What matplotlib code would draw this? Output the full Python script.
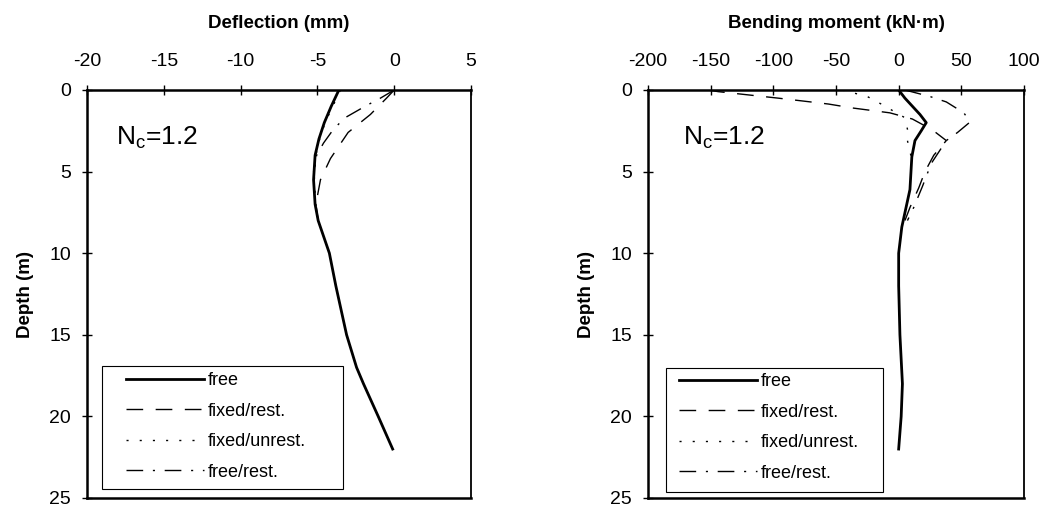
"""Deflection and bending moment profiles with depth for Nc=1.2."""
import matplotlib
matplotlib.use('Agg')
from matplotlib import pyplot as plt
from matplotlib.patches import Rectangle

plt.rcParams['font.family'] = ['Liberation Sans', 'DejaVu Sans']
plt.rcParams['axes.unicode_minus'] = False

LABELS = ['free', 'fixed/rest.', 'fixed/unrest.', 'free/rest.']

# Deflection (mm) vs depth (m)
defl_free_depth = [0, 1, 2, 3, 4, 5.5, 7, 8, 10, 12, 15, 17, 18, 20, 22]
defl_free = [-3.6, -4.1, -4.55, -4.9, -5.15, -5.25, -5.15, -4.95, -4.22, -3.8, -3.1, -2.45, -2.0, -1.04, -0.1]
defl_fixrest_depth = [0, 0.5, 1.5, 2.6, 4.2, 5.5, 7, 8]
defl_fixrest = [0, -0.5, -1.55, -3.0, -4.15, -4.8, -5.1, -4.95]
defl_fixunrest_depth = [0, 1, 2, 3, 4, 5.5, 7, 8]
defl_fixunrest = [-3.5, -4.0, -4.5, -4.85, -5.1, -5.2, -5.1, -4.95]
defl_freerest_depth = [0, 0.5, 1.0, 1.7, 2.4, 3.25, 4.0, 5.0]
defl_freerest = [0, -0.9, -1.9, -3.2, -3.95, -4.6, -5.05, -5.25]

# Bending moment (kN.m) vs depth (m)
mom_free_depth = [0, 0.5, 1.0, 1.5, 2.0, 2.5, 3.1, 4.1, 6.1, 8.4, 10, 12, 15, 18, 20, 22]
mom_free = [0, 5, 11, 17, 22, 18, 13, 10.5, 9, 2.5, 0, 0, 1, 3, 2, 0]
mom_fixrest_depth = [0, 0.1, 0.3, 0.5, 0.67, 0.86, 1.1, 1.4, 1.78, 2.45, 3.1, 4.0, 5.0, 6.0, 7.2, 8]
mom_fixrest = [-152, -144, -120, -96, -77, -56, -37, -7, 11, 27, 38, 28, 21, 16, 9, 5]
mom_fixunrest_depth = [0, 0.4, 0.9, 1.7, 2.4, 3.1, 4.1]
mom_fixunrest = [-45, -25, -13, 5, 7, 7, 10]
mom_freerest_depth = [0, 0.4, 0.73, 1.4, 1.96, 2.6, 3.1, 3.8, 4.5, 5.9, 7.2, 8]
mom_freerest = [5, 25, 38, 52, 57, 47, 38, 32, 26, 19, 12, 7]

STYLES = [
    dict(color='black', lw=2.0, ls='-'),
    dict(color='black', lw=1.0, ls=(0, (12, 9))),
    dict(color='black', lw=1.0, ls=(0, (1.5, 8))),
    dict(color='black', lw=1.0, ls=(0, (12, 7, 1.5, 7))),
]

W, H = 1045, 508
TICK_FS = 14
LABEL_FS = 13.5


def setup_axes(ax, xlim, xticks, xlabel, nc_x):
    ax.set_xlim(*xlim)
    ax.set_ylim(25, 0)
    ax.set_xticks(xticks)
    ax.set_yticks([0, 5, 10, 15, 20, 25])
    ax.xaxis.tick_top()
    ax.xaxis.set_label_position('top')
    ax.tick_params(direction='inout', length=7, width=1, labelsize=TICK_FS)
    ax.tick_params(axis='x', pad=11)
    ax.tick_params(axis='y', pad=8)
    ax.set_xlabel(xlabel, fontsize=LABEL_FS, fontweight='bold', labelpad=18)
    ax.set_ylabel('Depth (m)', fontsize=LABEL_FS, fontweight='bold', labelpad=11)
    for side in ['top', 'left', 'bottom']:
        ax.spines[side].set_linewidth(1.8)
    ax.spines['right'].set_linewidth(1.3)
    ax.text(nc_x, 0.882, 'N$_\\mathregular{c}$=1.2', transform=ax.transAxes,
            fontsize=19, va='center')


def draw(ax, series, handle_xy, box):
    for (d, v), lab, st in zip(series, LABELS, STYLES):
        ax.plot(v, d, label=lab, **st)
    ax.legend(loc='upper left', bbox_to_anchor=handle_xy, fontsize=13,
              frameon=False, borderaxespad=0, borderpad=0,
              handlelength=4.3, handletextpad=0.25, labelspacing=0.75)
    x0, y0, x1, y1 = box
    ax.add_patch(Rectangle((x0, y0), x1 - x0, y1 - y0, transform=ax.transAxes,
                           fill=False, edgecolor='black', lw=0.8, zorder=5))


def ax_frac(ax_box, px, py):
    left, top, right, bottom = ax_box
    return (px - left) / (right - left), (bottom - py) / (bottom - top)


fig = plt.figure(figsize=(W / 100, H / 100), dpi=100)
fig.patch.set_facecolor('white')

box1 = (87, 90, 471, 498)
ax1 = fig.add_axes([87 / W, 1 - 498 / H, (471 - 87) / W, (498 - 90) / H])
setup_axes(ax1, (-20, 5), [-20, -15, -10, -5, 0, 5], 'Deflection (mm)', 0.075)
draw(ax1, [(defl_free_depth, defl_free), (defl_fixrest_depth, defl_fixrest),
           (defl_fixunrest_depth, defl_fixunrest), (defl_freerest_depth, defl_freerest)],
     ax_frac(box1, 126, 372),
     ax_frac(box1, 102, 489) + ax_frac(box1, 343, 366))

box2 = (648, 90, 1024, 498)
ax2 = fig.add_axes([648 / W, 1 - 498 / H, (1024 - 648) / W, (498 - 90) / H])
setup_axes(ax2, (-200, 100), [-200, -150, -100, -50, 0, 50, 100],
           'Bending moment (kN\u00b7m)', 0.093)
draw(ax2, [(mom_free_depth, mom_free), (mom_fixrest_depth, mom_fixrest),
           (mom_fixunrest_depth, mom_fixunrest), (mom_freerest_depth, mom_freerest)],
     ax_frac(box2, 679, 373),
     ax_frac(box2, 666, 492) + ax_frac(box2, 883, 368))

plt.savefig('out.png', dpi=100)
